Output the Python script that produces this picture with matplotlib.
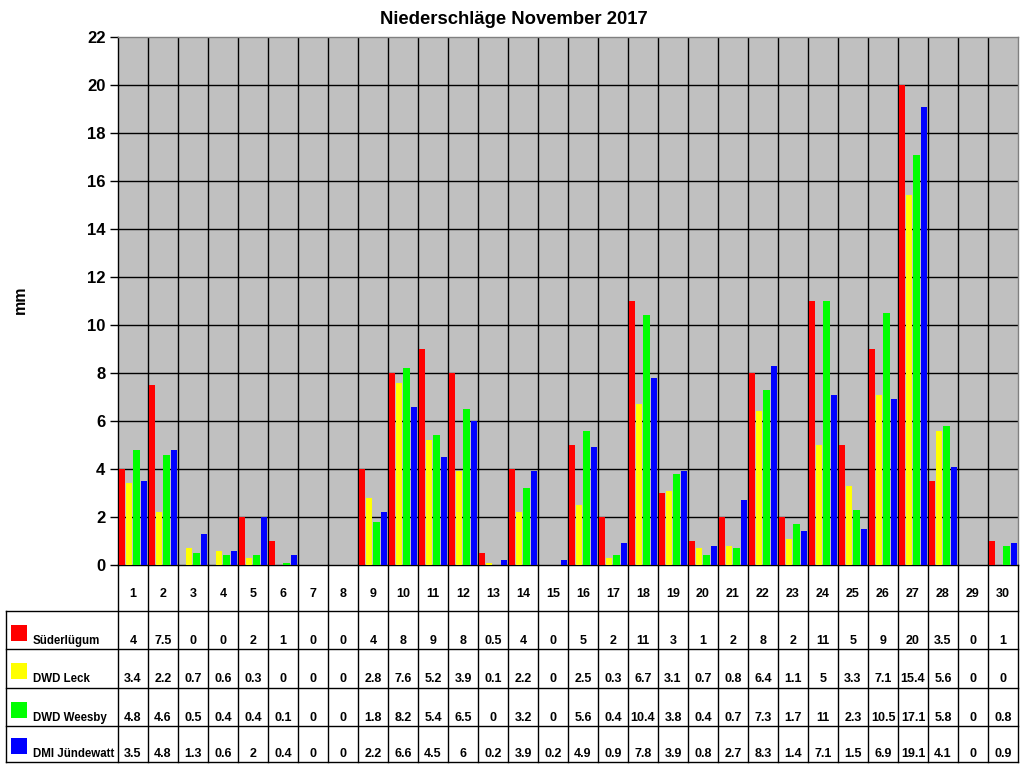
import matplotlib
matplotlib.use("Agg")
import matplotlib.pyplot as plt
import numpy as np

plt.rcParams['font.family'] = ['Liberation Sans', 'DejaVu Sans']

days = [str(d) for d in range(1, 31)]
series_names = ["Süderlügum", "DWD Leck", "DWD Weesby", "DMI Jündewatt"]
sued = [4, 7.5, 0, 0, 2, 1, 0, 0, 4, 8, 9, 8, 0.5, 4, 0, 5, 2, 11, 3, 1, 2, 8, 2, 11, 5, 9, 20, 3.5, 0, 1]
leck = [3.4, 2.2, 0.7, 0.6, 0.3, 0, 0, 0, 2.8, 7.6, 5.2, 3.9, 0.1, 2.2, 0, 2.5, 0.3, 6.7, 3.1, 0.7, 0.8, 6.4, 1.1, 5, 3.3, 7.1, 15.4, 5.6, 0, 0]
weesby = [4.8, 4.6, 0.5, 0.4, 0.4, 0.1, 0, 0, 1.8, 8.2, 5.4, 6.5, 0, 3.2, 0, 5.6, 0.4, 10.4, 3.8, 0.4, 0.7, 7.3, 1.7, 11, 2.3, 10.5, 17.1, 5.8, 0, 0.8]
juende = [3.5, 4.8, 1.3, 0.6, 2, 0.4, 0, 0, 2.2, 6.6, 4.5, 6, 0.2, 3.9, 0.2, 4.9, 0.9, 7.8, 3.9, 0.8, 2.7, 8.3, 1.4, 7.1, 1.5, 6.9, 19.1, 4.1, 0, 0.9]
colors = ["#FF0000", "#FFFF00", "#00FF00", "#0000FF"]
all_series = [sued, leck, weesby, juende]

W, H = 1024, 768
fig = plt.figure(figsize=(W / 100, H / 100), dpi=100)

# plot area in pixels
px_l, px_r, px_t, px_b = 118, 1018, 37, 565
ax = fig.add_axes([px_l / W, 1 - px_b / H, (px_r - px_l) / W, (px_b - px_t) / H])
ax.set_facecolor("#C0C0C0")
n = len(days)
x = np.arange(n)
slot = 0.247
bw = 0.21
for i, (vals, c) in enumerate(zip(all_series, colors)):
    ax.bar(x + 0.02 + i * slot, vals, width=bw, align="edge", color=c, edgecolor="none", zorder=3)
ax.set_xlim(0, n)
ax.set_ylim(0, 22)
ax.set_yticks(np.arange(0, 23, 2))
ax.set_yticklabels([str(v) for v in range(0, 23, 2)], fontsize=12, fontweight="bold")
ax.set_xticks([])
ax.tick_params(axis="y", direction="out", length=6, width=1, color="black", pad=3)
for yv in range(2, 22, 2):
    ax.axhline(yv, color="black", lw=1, zorder=1)
for xv in range(1, n):
    ax.axvline(xv, color="black", lw=1, zorder=1)
ax.spines["left"].set_color("black")
ax.spines["bottom"].set_color("black")
ax.spines["top"].set_color("#808080")
ax.spines["right"].set_color("#808080")
for s in ax.spines.values():
    s.set_linewidth(1)

fig.text(514 / W, 1 - 20 / H, "Niederschläge November 2017", ha="center", va="center",
         fontsize=13.3, fontweight="bold")
fig.text(20 / W, 1 - 300 / H, "mm", ha="center", va="center", rotation=90,
         fontsize=11.5, fontweight="bold")

# data table
t_l, t_t, t_b = 6, 565, 762
tax = fig.add_axes([t_l / W, 1 - t_b / H, (px_r - t_l) / W, (t_b - t_t) / H])
left_x = -(px_l - t_l) / ((px_r - px_l) / n)
tax.set_xlim(left_x, n)
tax.set_ylim(t_b - t_t, 0)
tax.axis("off")
row_edges = [0, 45.5, 84, 122.5, 161, 197]
lk = dict(color="black", lw=1, clip_on=False)
for xv in range(0, n + 1):
    tax.plot([xv, xv], [0, row_edges[-1]], **lk)
tax.plot([left_x, left_x], [row_edges[1], row_edges[-1]], **lk)
for ye in row_edges[1:]:
    tax.plot([left_x, n], [ye, ye], **lk)
for j, d in enumerate(days):
    tax.text(j + 0.5, 29, d, ha="center", va="center", fontsize=9, fontweight="bold")
sq_w = 16 / ((px_r - px_l) / n)
for r, (name, vals, c) in enumerate(zip(series_names, all_series, colors)):
    ybot = row_edges[r + 2]
    tax.add_patch(plt.Rectangle((left_x + 5 / 30, ybot - 8.5 - 16), sq_w, 16,
                                facecolor=c, edgecolor="none", clip_on=False))
    tax.text(left_x + 27 / 30, ybot - 8, name, ha="left", va="center",
             fontsize=8.3, fontweight="bold")
    for j, v in enumerate(vals):
        tax.text(j + 0.5, ybot - 8, f"{v:g}", ha="center", va="center",
                 fontsize=9, fontweight="bold")

fig.savefig("out.png", dpi=100)
